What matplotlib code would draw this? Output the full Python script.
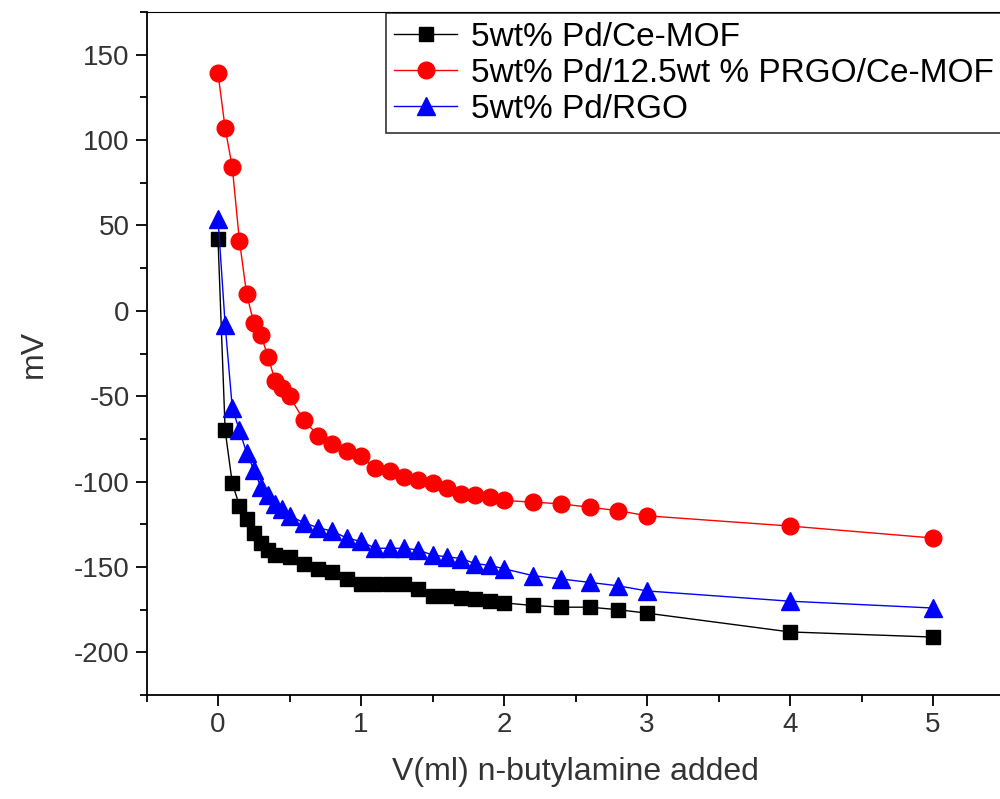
import matplotlib
matplotlib.use("Agg")
import matplotlib.pyplot as plt
from matplotlib.ticker import MultipleLocator

plt.rcParams['font.family'] = ['Liberation Sans', 'DejaVu Sans']
plt.rcParams['axes.unicode_minus'] = False

# data
x_black = [0, 0.05, 0.1, 0.15, 0.2, 0.25, 0.3, 0.35, 0.4, 0.5, 0.6, 0.7, 0.8, 0.9,
           1.0, 1.1, 1.2, 1.3, 1.4, 1.5, 1.6, 1.7, 1.8, 1.9, 2.0, 2.2, 2.4, 2.6, 2.8, 3.0, 4.0, 5.0]
y_black = [42, -70, -101, -114, -122, -130, -136, -140, -143, -144, -148, -151, -153, -157,
           -160, -160, -160, -160, -163, -167, -167, -168, -168.5, -170, -171, -172.5, -173.5,
           -173.5, -175, -177, -188, -191]

x_red = [0, 0.05, 0.1, 0.15, 0.2, 0.25, 0.3, 0.35, 0.4, 0.45, 0.5, 0.6, 0.7, 0.8, 0.9,
         1.0, 1.1, 1.2, 1.3, 1.4, 1.5, 1.6, 1.7, 1.8, 1.9, 2.0, 2.2, 2.4, 2.6, 2.8, 3.0, 4.0, 5.0]
y_red = [139, 107, 84, 41, 10, -7, -14, -27, -41, -45, -50, -64, -73, -78, -82,
         -85, -92, -94, -97, -99, -101, -104, -107, -108, -109, -111, -112, -113, -115,
         -117, -120, -126, -133]

x_blue = [0, 0.05, 0.1, 0.15, 0.2, 0.25, 0.3, 0.35, 0.4, 0.45, 0.5, 0.6, 0.7, 0.8, 0.9,
          1.0, 1.1, 1.2, 1.3, 1.4, 1.5, 1.6, 1.7, 1.8, 1.9, 2.0, 2.2, 2.4, 2.6, 2.8, 3.0, 4.0, 5.0]
y_blue = [54, -8, -57, -70, -83, -93, -103, -108, -113, -116, -120, -124, -127, -129, -133,
          -135, -139, -139, -139, -140, -143, -144, -145, -148, -149, -151, -155, -157, -159,
          -161, -164, -170, -174]

labels = ["5wt% Pd/Ce-MOF", "5wt% Pd/12.5wt % PRGO/Ce-MOF", "5wt% Pd/RGO"]

fig = plt.figure(figsize=(10, 7.99), dpi=100)
ax = fig.add_axes([0.1465, 0.13, 0.858, 0.855])

ax.plot(x_black, y_black, color='black', lw=1, marker='s', ms=10, label=labels[0])
ax.plot(x_red, y_red, color='red', lw=1, marker='o', ms=12, label=labels[1])
ax.plot(x_blue, y_blue, color='blue', lw=1, marker='^', ms=13, label=labels[2])

ax.set_xlim(-0.5, 5.5)
ax.set_ylim(-225, 175)
ax.xaxis.set_major_locator(MultipleLocator(1))
ax.xaxis.set_minor_locator(MultipleLocator(0.5))
ax.yaxis.set_major_locator(MultipleLocator(50))
ax.yaxis.set_minor_locator(MultipleLocator(25))
ax.tick_params(which='major', direction='out', length=8, width=1.3, labelsize=20,
               labelcolor='#333333', pad=4)
ax.tick_params(which='minor', direction='out', length=5, width=1.3)
ax.spines['right'].set_visible(False)
for s in ['left', 'bottom']:
    ax.spines[s].set_linewidth(1.3)

ax.set_xlabel("V(ml) n-butylamine added", fontsize=23, color='#333333', labelpad=14)
ax.set_ylabel("mV", fontsize=23, color='#333333', labelpad=18)

leg = ax.legend(loc='upper right', bbox_to_anchor=(0.997, 0.998), fontsize=24, frameon=True,
                fancybox=False, edgecolor='black', handlelength=1.9, borderaxespad=0.0,
                labelspacing=0.15, handletextpad=0.4, borderpad=0.25)
leg.get_frame().set_linewidth(1.2)

fig.savefig("out.png", dpi=100)
